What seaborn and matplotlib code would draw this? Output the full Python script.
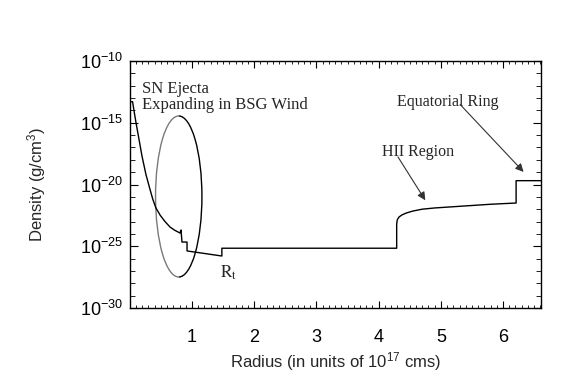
import numpy as np
import pandas as pd
import matplotlib
matplotlib.use("Agg")
import matplotlib.pyplot as plt
from matplotlib.patches import Arc
from matplotlib.ticker import FixedLocator, MultipleLocator, NullFormatter
import seaborn as sns

# ---- data ----
radius = [0.0, 0.045, 0.07, 0.10, 0.15, 0.196, 0.26, 0.325, 0.37, 0.42, 0.49,
          0.566, 0.646, 0.72, 0.807, 0.823, 0.839, 0.839, 0.92, 0.92, 1.48, 1.48,
          4.29, 4.29, 4.30, 4.33, 4.38, 4.45, 4.55, 4.70, 4.90, 5.20, 5.50, 5.80,
          6.21, 6.21, 6.61]
log_density = [-13.3, -13.3, -14.1, -15.0, -16.4, -17.7, -19.2, -20.4, -21.2, -21.9, -22.5,
               -23.0, -23.44, -23.7, -23.93, -23.68, -24.66, -24.66, -24.66, -25.38, -25.79, -25.16,
               -25.16, -23.2, -22.85, -22.62, -22.45, -22.3, -22.15, -22.0, -21.9, -21.8, -21.7, -21.6,
               -21.5, -19.69, -19.69]
x_ticks = [1, 2, 3, 4, 5, 6]
y_exponents = [-10, -15, -20, -25, -30]

df = pd.DataFrame({"radius": radius, "density": [10.0 ** v for v in log_density]})

sns.set_style("ticks")
plt.rcParams["font.family"] = ["Liberation Sans", "DejaVu Sans"]
plt.rcParams["mathtext.fontset"] = "stix"

fig = plt.figure(figsize=(5.88, 3.88), dpi=100)
ax = fig.add_axes([129.8 / 588, 1 - 308 / 388, (541 - 129.8) / 588, (308 - 61) / 388])

sns.lineplot(data=df, x="radius", y="density", sort=False, estimator=None,
             color="black", lw=1.0, ax=ax)
ax.set_yscale("log")
ax.set_xlim(0, 6.61)
ax.set_ylim(1e-30, 1e-10)

ax.xaxis.set_major_locator(FixedLocator(x_ticks))
ax.xaxis.set_minor_locator(MultipleLocator(0.1))
ax.yaxis.set_major_locator(FixedLocator([10.0 ** e for e in y_exponents]))
ax.yaxis.set_minor_locator(FixedLocator([10.0 ** e for e in range(-30, -9)]))
ax.yaxis.set_minor_formatter(NullFormatter())
ax.set_yticklabels([r"$\mathdefault{10^{%d}}$" % e for e in y_exponents])

ax.tick_params(which="both", direction="in", top=True, right=True, colors="black",
               labelsize=13)
ax.tick_params(axis="x", which="major", length=5, width=0.8, pad=15)
ax.tick_params(axis="x", which="minor", length=2.5, width=0.6)
ax.tick_params(axis="y", which="major", length=6, width=0.8, pad=5)
ax.tick_params(axis="y", which="minor", length=3.5, width=0.6)
for s in ax.spines.values():
    s.set_color("black")
    s.set_linewidth(1.0)

ax.set_xlabel(r"Radius (in units of $\mathdefault{10^{17}}$ cms)", fontsize=12)
ax.set_ylabel(r"Density (g/cm$\mathdefault{^{3}}$)", fontsize=12)
ax.xaxis.set_label_coords(0.5, -0.17)
ax.yaxis.set_label_coords(-0.198, 0.5)

# ellipse around the SN ejecta (axes coordinates)
ecx, ecy, ew, eh = 0.119, 0.4515, 0.1128, 0.652
ax.add_patch(Arc((ecx, ecy), ew, eh, theta1=90, theta2=270, transform=ax.transAxes,
                 color="#7a7a7a", lw=1.0))
ax.add_patch(Arc((ecx, ecy), ew, eh, theta1=-90, theta2=90, transform=ax.transAxes,
                 color="black", lw=1.0))

serif = ["Liberation Serif", "DejaVu Serif"]
ax.text(0.20, 10 ** -12.59, "SN Ejecta", family=serif, fontsize=12, va="baseline")
ax.text(0.20, 10 ** -13.85, "Expanding in BSG Wind", family=serif, fontsize=12, va="baseline")
ax.text(4.05, 10 ** -17.69, "HII Region", family=serif, fontsize=11.5, va="baseline")
ax.text(4.30, 10 ** -13.62, "Equatorial Ring", family=serif, fontsize=11.5, va="baseline")
ax.text(1.45, 10 ** -27.57, r"$\mathrm{R_t}$", fontsize=12.5, va="baseline")

arrow = dict(arrowstyle="-|>", color="#333333", lw=0.8, mutation_scale=12, shrinkA=0, shrinkB=0)
ax.annotate("", xy=(4.75, 10 ** -21.28), xytext=(4.31, 10 ** -17.76), arrowprops=arrow)
ax.annotate("", xy=(6.33, 10 ** -18.98), xytext=(5.31, 10 ** -13.52), arrowprops=arrow)

fig.savefig("out.png", dpi=100, facecolor="white")
